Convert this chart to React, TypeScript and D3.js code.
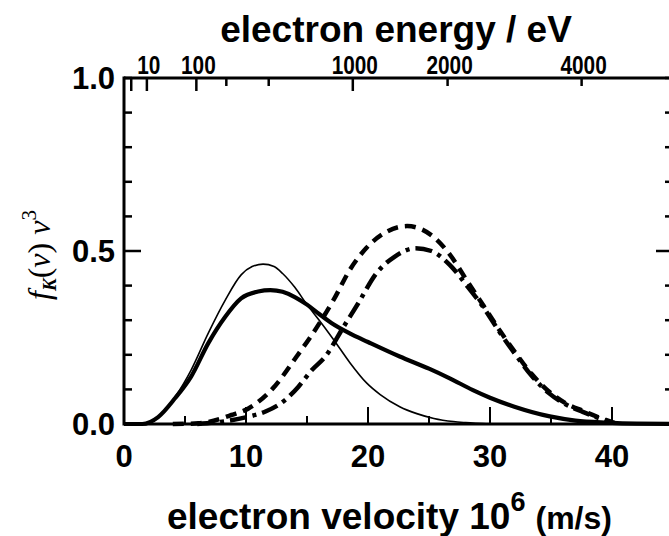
import React from 'react';
import * as d3 from 'd3';

// Thin solid curve
const thinV = [0, 1.5, 2.8, 4.2, 5.5, 6.9, 8.3, 9.6, 10.5, 11.4, 12.3, 13, 14, 15, 16, 17.2, 18.5, 19.9, 21, 22.6, 24, 25.4, 27, 28, 30];
const thinF = [0, 0, 0.02, 0.079, 0.156, 0.262, 0.358, 0.431, 0.455, 0.462, 0.455, 0.435, 0.395, 0.345, 0.3, 0.243, 0.178, 0.118, 0.085, 0.05, 0.03, 0.016, 0.007, 0.004, 0];
// Thick solid curve
const thickV = [0, 1.5, 2.8, 4.2, 5.5, 6.9, 8.3, 9.6, 11, 12, 13, 14, 15, 16, 17, 18.5, 20, 22.6, 25, 26.7, 28.6, 30, 32, 34.9, 37, 39.6, 42, 45];
const thickF = [0, 0, 0.02, 0.075, 0.137, 0.233, 0.31, 0.363, 0.383, 0.387, 0.382, 0.367, 0.345, 0.318, 0.292, 0.262, 0.237, 0.195, 0.16, 0.132, 0.098, 0.076, 0.05, 0.022, 0.01, 0.004, 0.001, 0];
// Dashed curve
const dashV = [4, 6.1, 8.8, 10.2, 12.2, 14.15, 16, 17.2, 18.5, 19.9, 21.3, 23.2, 25.4, 26.7, 28.1, 29.5, 30.8, 32, 33.4, 34.8, 36.2, 37.6, 39, 40.2];
const dashF = [0, 0.002, 0.026, 0.045, 0.103, 0.195, 0.29, 0.36, 0.445, 0.51, 0.551, 0.572, 0.54, 0.49, 0.415, 0.34, 0.27, 0.21, 0.145, 0.095, 0.06, 0.038, 0.018, 0.003];
// Dash-dot curve
const dotV = [6, 10.2, 11.6, 13.2, 14.3, 15.4, 16.5, 18, 19.2, 20.7, 22.2, 23.9, 25.2, 26.7, 28.1, 29.5, 30.8, 32, 33.4, 34.8, 36.2, 37.6, 39, 40];
const dotF = [0, 0.021, 0.036, 0.069, 0.108, 0.156, 0.195, 0.281, 0.349, 0.436, 0.484, 0.508, 0.5, 0.46, 0.4, 0.335, 0.265, 0.205, 0.14, 0.09, 0.057, 0.035, 0.016, 0.003];

const xTicks = [0, 5, 10, 15, 20, 25, 30, 35, 40, 45];
const xLabels = [0, 10, 20, 30, 40];
const yTicks = [0, 0.1, 0.2, 0.3, 0.4, 0.5, 0.6, 0.7, 0.8, 0.9, 1.0];
const yLabels = [0, 0.5, 1.0];
const energyTicks = [1, 10, 100, 200, 400, 1000, 2000, 4000];
const energyLongTicks = [1, 10, 100, 1000];
const energyLabels = [10, 100, 1000, 2000, 4000];

// E (eV) = 0.5 m v^2 / e, v in 1e6 m/s
const EV_PER_V2 = 2.843;

const FONT = "'Liberation Sans', Arial, Helvetica, sans-serif";

export default function App() {
  const W = 669, H = 536;
  const x = d3.scaleLinear().domain([0, 45]).range([124, 673]);
  const y = d3.scaleLinear().domain([0, 1]).range([424, 78]);
  const xE = (e: number) => x(Math.sqrt(e / EV_PER_V2));
  const line = d3.line<[number, number]>().x(d => x(d[0])).y(d => y(d[1])).curve(d3.curveMonotoneX);
  const pts = (v: number[], f: number[]) => v.map((vv, i) => [vv, f[i]] as [number, number]);

  const x0 = x(0), x1 = x(45), y0 = y(0), y1 = y(1);

  return (
    <svg width={W} height={H} style={{ position: 'absolute', left: 0, top: 0, background: '#fff' }}>
      <rect x={0} y={0} width={W} height={H} fill="#fff" />
      {/* curves */}
      <path d={line(pts(thinV, thinF)) || ''} fill="none" stroke="#000" strokeWidth={1.6} />
      <path d={line(pts(thickV, thickF)) || ''} fill="none" stroke="#000" strokeWidth={4.2} />
      <path d={line(pts(dashV, dashF)) || ''} fill="none" stroke="#000" strokeWidth={4.5} strokeDasharray="11 7" />
      <path d={line(pts(dotV, dotF)) || ''} fill="none" stroke="#000" strokeWidth={4.5} strokeDasharray="17 6 4 6" />

      {/* frame */}
      <line x1={x0} x2={x0} y1={y1 - 1.5} y2={y0 + 1.5} stroke="#000" strokeWidth={3} />
      <line x1={x1} x2={x1} y1={y1 - 1.5} y2={y0 + 1.5} stroke="#000" strokeWidth={3} />
      <line x1={x0} x2={x1} y1={y1} y2={y1} stroke="#000" strokeWidth={3} />
      <line x1={x0} x2={x1} y1={y0} y2={y0} stroke="#000" strokeWidth={3} />

      {/* y ticks */}
      {yTicks.map(t => {
        const major = Math.abs(t - 0.5) < 1e-6;
        const len = major ? 17 : 8;
        return (
          <g key={'yt' + t}>
            <line x1={x0} x2={x0 + len} y1={y(t)} y2={y(t)} stroke="#000" strokeWidth={2.5} />
            <line x1={x1} x2={x1 - len} y1={y(t)} y2={y(t)} stroke="#000" strokeWidth={2.5} />
          </g>
        );
      })}
      {yLabels.map(t => (
        <text key={'yl' + t} x={115} y={y(t)} dy="0.36em" textAnchor="end" fontFamily={FONT} fontWeight="bold" fontSize={31}>
          {t.toFixed(1)}
        </text>
      ))}

      {/* x ticks */}
      {xTicks.map(t => {
        const major = t % 10 === 0;
        const len = major ? 17 : 8;
        return <line key={'xt' + t} x1={x(t)} x2={x(t)} y1={y0} y2={y0 - len} stroke="#000" strokeWidth={2} />;
      })}
      {xLabels.map(t => (
        <text key={'xl' + t} x={x(t)} y={467} textAnchor="middle" fontFamily={FONT} fontWeight="bold" fontSize={31}>
          {t}
        </text>
      ))}

      {/* top energy axis */}
      {energyTicks.map(e => {
        const len = energyLongTicks.includes(e) ? 13 : 8;
        return <line key={'et' + e} x1={xE(e)} x2={xE(e)} y1={y1} y2={y1 + len} stroke="#000" strokeWidth={2.5} />;
      })}
      {energyLabels.map(e => (
        <g key={'el' + e} transform={`translate(${xE(e) + 2},74) scale(0.8,1)`}>
          <text x={0} y={0} textAnchor="middle" fontFamily={FONT} fontWeight="bold" fontSize={26}>{e}</text>
        </g>
      ))}

      {/* titles */}
      <text x={396} y={42} textAnchor="middle" fontFamily={FONT} fontWeight="bold" fontSize={37}>electron energy / eV</text>
      <text x={167} y={529} fontFamily={FONT} fontWeight="bold" fontSize={37}>
        electron velocity 10
        <tspan fontSize={27} dy={-18}>6</tspan>
        <tspan fontSize={32} dy={18} dx={10}>(m/s)</tspan>
      </text>

      {/* y axis label */}
      <text transform="translate(50,255) rotate(-90)" textAnchor="middle" fontFamily="'Liberation Serif', 'Times New Roman', serif" fontSize={32}>
        <tspan fontStyle="italic">f</tspan>
        <tspan fontStyle="italic" fontWeight="bold" fontSize={19} dy={6}>K</tspan>
        <tspan dy={-6}>(</tspan>
        <tspan fontStyle="italic">v</tspan>
        <tspan>) </tspan>
        <tspan fontStyle="italic">v</tspan>
        <tspan fontSize={21} dy={-14}>3</tspan>
      </text>
    </svg>
  );
}
